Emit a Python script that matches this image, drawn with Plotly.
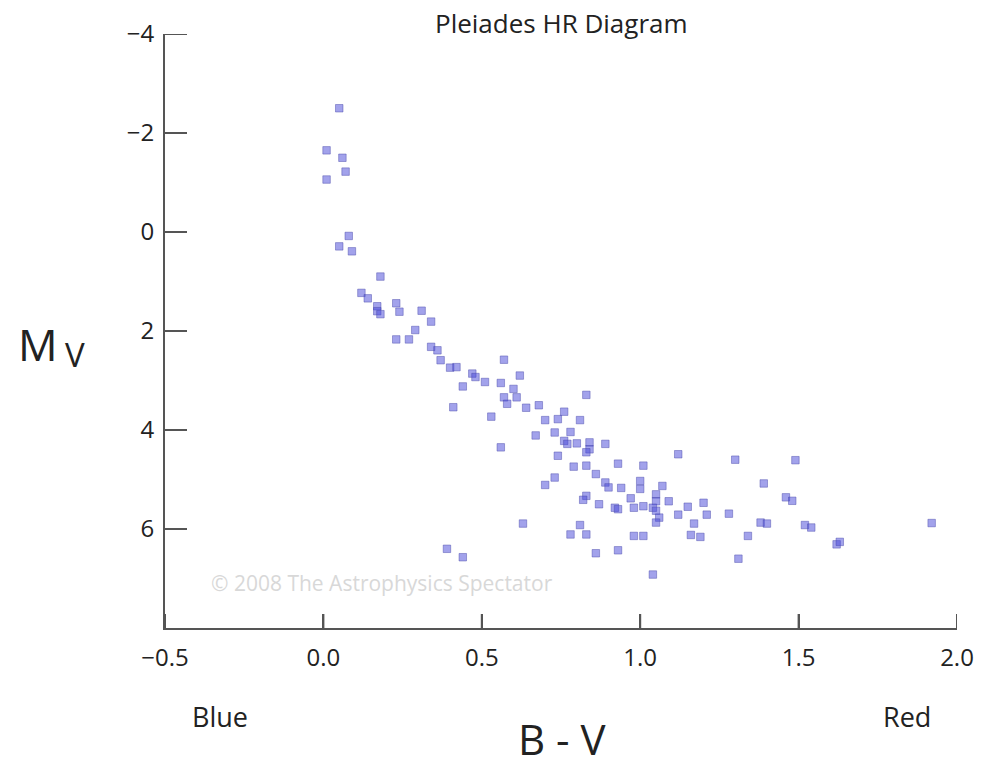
import plotly.graph_objects as go

# B-V colour index
bv = [0.05, 0.01, 0.06, 0.07, 0.01, 0.08, 0.05, 0.09, 0.18, 0.12, 0.14, 0.17, 0.17, 0.18,
      0.23, 0.24, 0.31, 0.34, 0.29, 0.23, 0.27, 0.34, 0.36, 0.37, 0.40, 0.42, 0.47, 0.48,
      0.51, 0.44, 0.57, 0.56, 0.62, 0.60, 0.57, 0.61, 0.58, 0.41, 0.64, 0.53, 0.68, 0.70,
      0.74, 0.76, 0.83, 0.81, 0.73, 0.67, 0.78, 0.76, 0.77, 0.80, 0.84, 0.84, 0.89, 0.56,
      0.74, 0.83, 0.79, 0.83, 0.93, 0.86, 0.89, 0.90, 0.94, 0.73, 0.70, 0.83, 1.01, 1.12,
      1.30, 1.00, 1.00, 1.07, 1.05, 1.05, 1.04, 1.05, 1.06, 0.97, 1.01, 0.98, 0.92, 0.93,
      0.87, 0.82, 1.09, 1.15, 1.20, 1.12, 1.21, 1.28, 1.17, 1.05, 0.81, 0.78, 0.83, 0.98,
      1.01, 1.16, 1.19, 1.34, 0.86, 0.93, 1.31, 1.04, 1.49, 1.39, 1.46, 1.48, 1.38, 1.40,
      1.52, 1.54, 1.62, 1.63, 1.92, 0.63, 0.39, 0.44]
# Absolute visual magnitude
mv = [-2.50, -1.65, -1.50, -1.22, -1.06, 0.08, 0.29, 0.39, 0.90, 1.23, 1.34, 1.50, 1.60, 1.66,
      1.44, 1.61, 1.59, 1.81, 1.98, 2.17, 2.17, 2.32, 2.39, 2.59, 2.74, 2.73, 2.86, 2.93,
      3.03, 3.12, 2.58, 3.05, 2.90, 3.17, 3.34, 3.34, 3.47, 3.54, 3.55, 3.73, 3.50, 3.80,
      3.78, 3.63, 3.29, 3.80, 4.05, 4.11, 4.04, 4.22, 4.28, 4.27, 4.25, 4.39, 4.28, 4.35,
      4.52, 4.45, 4.74, 4.72, 4.68, 4.89, 5.06, 5.16, 5.17, 4.96, 5.11, 5.33, 4.72, 4.49,
      4.60, 5.03, 5.19, 5.13, 5.30, 5.44, 5.57, 5.63, 5.77, 5.38, 5.54, 5.57, 5.57, 5.60,
      5.50, 5.41, 5.44, 5.55, 5.47, 5.71, 5.71, 5.69, 5.89, 5.87, 5.92, 6.11, 6.11, 6.14,
      6.14, 6.12, 6.16, 6.14, 6.49, 6.43, 6.60, 6.92, 4.61, 5.08, 5.36, 5.43, 5.87, 5.89,
      5.92, 5.97, 6.31, 6.26, 5.88, 5.89, 6.40, 6.57]

x_ticks = [-0.5, 0.0, 0.5, 1.0, 1.5, 2.0]
x_tick_labels = ["\u22120.5", "0.0", "0.5", "1.0", "1.5", "2.0"]
y_ticks = [-4, -2, 0, 2, 4, 6]
y_tick_labels = ["\u22124", "\u22122", "0", "2", "4", "6"]

FONT = "Open Sans, Noto Sans, sans-serif"
AX = "#555555"
W, H = 993, 766
pl, pr, pt, pb = 165, 36, 34, 138
pw, ph = W - pl - pr, H - pt - pb
XTICK_LEN, YTICK_LEN = 14, 22

fig = go.Figure()
fig.add_trace(go.Scatter(
    x=bv, y=mv, mode="markers",
    marker=dict(symbol="square", size=7.5, color="rgba(70,70,215,0.5)",
                line=dict(width=1, color="rgba(70,70,170,0.45)")),
    hoverinfo="x+y", showlegend=False,
))


def px(xp, yp):
    return (xp - pl) / pw, (H - pb - yp) / ph


anns = []
for text, xp, yp, size, color in [
    ("Pleiades HR Diagram", 561, 23, 26, "#222"),
    ("M", 38, 344, 44, "#222"),
    ("V", 75, 354, 33, "#222"),
    ("B - V", 562, 738, 42, "#222"),
    ("Blue", 220, 716, 27, "#222"),
    ("Red", 907, 716, 27, "#222"),
    ("\u00a9 2008 The Astrophysics Spectator", 382, 583, 21, "#d8d8d8"),
]:
    ax_, ay_ = px(xp, yp)
    anns.append(dict(text=text, x=ax_, y=ay_, xref="paper", yref="paper",
                     xanchor="center", yanchor="middle", showarrow=False,
                     font=dict(size=size, family=FONT, color=color)))

# inside tick marks, placed at the tick values
shapes = []
for t in x_ticks:
    shapes.append(dict(type="line", xref="x", yref="paper", x0=t, x1=t,
                       y0=0, y1=XTICK_LEN / ph, line=dict(color=AX, width=2), layer="above"))
for t in y_ticks:
    shapes.append(dict(type="line", xref="paper", yref="y", x0=0, x1=YTICK_LEN / pw,
                       y0=t, y1=t, line=dict(color=AX, width=2), layer="above"))

fig.update_layout(
    width=W, height=H,
    margin=dict(l=pl, r=pr, t=pt, b=pb),
    paper_bgcolor="white", plot_bgcolor="white",
    font=dict(family=FONT, color="#222"),
    xaxis=dict(range=[-0.5, 2.0], showgrid=False, zeroline=False,
               showline=True, linecolor=AX, linewidth=2,
               ticks="inside", ticklen=XTICK_LEN, tickwidth=2, tickcolor=AX,
               tickvals=x_ticks, ticktext=x_tick_labels, ticklabelstandoff=7,
               tickfont=dict(size=24, family=FONT, color="#222")),
    yaxis=dict(range=[8.0, -4.0], showgrid=False, zeroline=False,
               showline=True, linecolor=AX, linewidth=2,
               ticks="inside", ticklen=YTICK_LEN, tickwidth=2, tickcolor=AX,
               tickvals=y_ticks, ticktext=y_tick_labels, ticklabelstandoff=4,
               tickfont=dict(size=24, family=FONT, color="#222")),
    annotations=anns,
    shapes=shapes,
)

fig.write_html("out.html", config={"displayModeBar": False},
               post_script="document.body.style.margin='0';document.body.style.overflow='hidden';")
